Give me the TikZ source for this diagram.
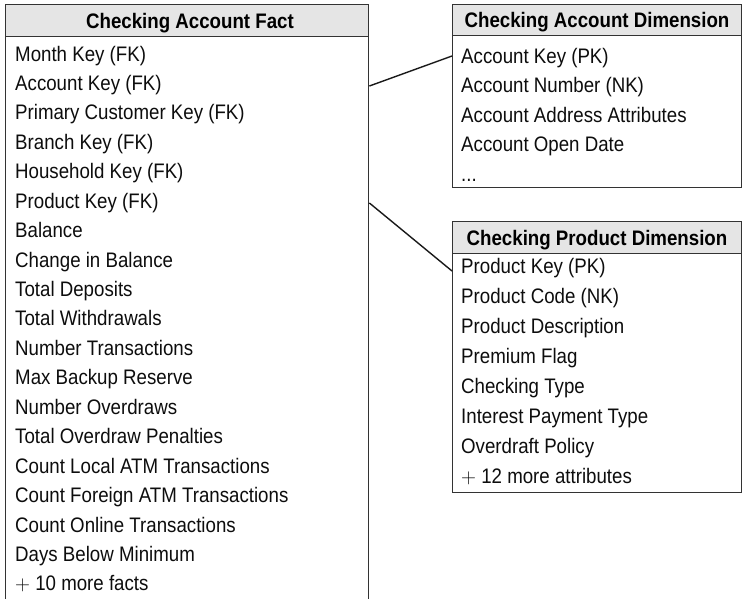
\documentclass[tikz,border=0pt]{standalone}
\usepackage{fontspec}
\setmainfont{Liberation Sans}[FakeStretch=0.89]
\begin{document}
\begin{tikzpicture}[x=1pt,y=-1pt,
  boxline/.style={draw=black!80, line width=1.4pt},
  bodybox/.style={boxline, fill=white, inner sep=0pt, anchor=north west},
  hdrbox/.style={boxline, fill=black!10, inner sep=0pt, anchor=north west},
  hdrtext/.style={anchor=base, inner sep=0pt, text=black, font=\bfseries\fontsize{21}{25}\selectfont},
  rowtext/.style={anchor=base west, inner sep=0pt, text=black!95, font=\fontsize{21}{25}\selectfont},
  link/.style={draw=black!90, line width=1.4pt}]
\useasboundingbox (0,0) rectangle (742,598);
\clip (0,0) rectangle (742,598);
% ---- Fact table
\node[bodybox, minimum width=363pt, minimum height=600pt] (factbody) at (5,36) {};
\node[hdrbox, minimum width=363pt, minimum height=32pt] (facthdr) at (5,4) {};
\node[hdrtext] (facttitle) at (190,28.5) {Checking Account Fact};
\foreach \t [count=\i from 0] in {Month Key (FK), Account Key (FK), Primary Customer Key (FK), Branch Key (FK), Household Key (FK), Product Key (FK), Balance, Change in Balance, Total Deposits, Total Withdrawals, Number Transactions, Max Backup Reserve, Number Overdraws, Total Overdraw Penalties, Count Local ATM Transactions, Count Foreign ATM Transactions, Count Online Transactions, Days Below Minimum, $+$ 10 more facts}
  \node[rowtext] (f\i) at (15,61+29.44*\i) {\t};
% ---- Account dimension
\node[bodybox, minimum width=289pt, minimum height=152pt] (acctbody) at (452,35) {};
\node[hdrbox, minimum width=289pt, minimum height=31pt] (accthdr) at (452,4) {};
\node[hdrtext] (accttitle) at (597,27.5) {Checking Account Dimension};
\foreach \t [count=\i from 0] in {Account Key (PK), Account Number (NK), Account Address Attributes, Account Open Date}
  \node[rowtext] (a\i) at (461,63+29.5*\i) {\t};
\node[rowtext] (a4) at (461,181) {.{}.{}.};
% ---- Product dimension
\node[bodybox, minimum width=289pt, minimum height=239pt] (prodbody) at (452,253) {};
\node[hdrbox, minimum width=289pt, minimum height=32pt] (prodhdr) at (452,221) {};
\node[hdrtext] (prodtitle) at (597,245) {Checking Product Dimension};
\foreach \t [count=\i from 0] in {Product Key (PK), Product Code (NK), Product Description, Premium Flag, Checking Type, Interest Payment Type, Overdraft Policy, $+$ 12 more attributes}
  \node[rowtext] (p\i) at (461,273+30*\i) {\t};
% ---- Connectors
\coordinate (factA) at (factbody.east |- 0,86);
\coordinate (factP) at (factbody.east |- 0,203);
\coordinate (acctIn) at (acctbody.west |- 0,56);
\coordinate (prodIn) at (prodbody.west |- 0,271);
\draw[link] (factA) -- (acctIn);
\draw[link] (factP) -- (prodIn);
\end{tikzpicture}
\end{document}
